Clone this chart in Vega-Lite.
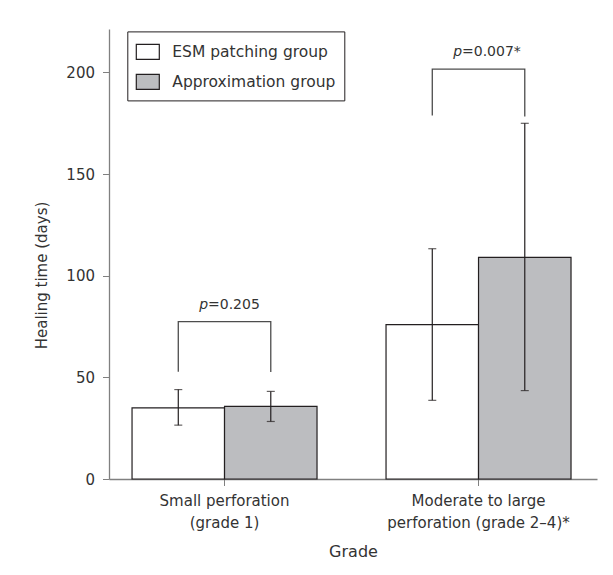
{
  "$schema": "https://vega.github.io/schema/vega-lite/v6.json",
  "width": 488,
  "height": 450,
  "autosize": {"type": "none"},
  "padding": {"left": 109, "top": 29, "right": 16, "bottom": 96},
  "background": "white",
  "config": {"view": {"stroke": null}, "font": "DejaVu Sans"},
  "datasets": {
    "bars": [
      {"grade": "Small perforation|(grade 1)", "group": "ESM patching group", "mean": 35, "lo": 26.5, "hi": 44},
      {"grade": "Small perforation|(grade 1)", "group": "Approximation group", "mean": 35.7, "lo": 28.3, "hi": 43.1},
      {"grade": "Moderate to large|perforation (grade 2–4)*", "group": "ESM patching group", "mean": 76, "lo": 38.7, "hi": 113.3},
      {"grade": "Moderate to large|perforation (grade 2–4)*", "group": "Approximation group", "mean": 109, "lo": 43.5, "hi": 175}
    ],
    "brackets": [
      {"grade": "Small perforation|(grade 1)", "group": "ESM patching group", "v": 52.8, "ord": 1},
      {"grade": "Small perforation|(grade 1)", "group": "ESM patching group", "v": 77.4, "ord": 2},
      {"grade": "Small perforation|(grade 1)", "group": "Approximation group", "v": 77.4, "ord": 3},
      {"grade": "Small perforation|(grade 1)", "group": "Approximation group", "v": 52.6, "ord": 4},
      {"grade": "Moderate to large|perforation (grade 2–4)*", "group": "ESM patching group", "v": 178.9, "ord": 1},
      {"grade": "Moderate to large|perforation (grade 2–4)*", "group": "ESM patching group", "v": 201.7, "ord": 2},
      {"grade": "Moderate to large|perforation (grade 2–4)*", "group": "Approximation group", "v": 201.7, "ord": 3},
      {"grade": "Moderate to large|perforation (grade 2–4)*", "group": "Approximation group", "v": 178.4, "ord": 4}
    ],
    "pvals": [
      {"grade": "Small perforation|(grade 1)", "v": 77.4, "p": "p", "rest": "=0.205"},
      {"grade": "Moderate to large|perforation (grade 2–4)*", "v": 201.7, "p": "p", "rest": "=0.007*"}
    ]
  },
  "encoding": {
    "x": {
      "field": "grade",
      "type": "nominal",
      "sort": null,
      "scale": {"paddingInner": 0.2717, "paddingOuter": 0.0965, "align": 0.47},
      "title": "Grade",
      "axis": {
        "labelExpr": "split(datum.label, '|')",
        "labelAngle": 0,
        "labelLimit": 0,
        "labelFontSize": 15,
        "labelLineHeight": 21.7,
        "labelPadding": 8,
        "labelColor": "#333333",
        "tickSize": 6.5,
        "tickColor": "#808080",
        "domainColor": "#808080",
        "domainWidth": 1.3,
        "titleFontSize": 16,
        "titleFontWeight": "normal",
        "titleColor": "#333333",
        "titleY": 72.4,
        "titleBaseline": "middle"
      }
    }
  },
  "layer": [
    {
      "data": {"name": "bars"},
      "mark": {"type": "bar", "stroke": "#231f20", "strokeWidth": 1.2},
      "encoding": {
        "xOffset": {"field": "group", "type": "nominal", "sort": ["ESM patching group", "Approximation group"], "scale": {"paddingInner": 0, "paddingOuter": 0}},
        "y": {
          "field": "mean",
          "type": "quantitative",
          "scale": {"domain": [0, 221.4], "nice": false},
          "title": "Healing time (days)",
          "axis": {
            "values": [0, 50, 100, 150, 200],
            "grid": false,
            "labelFontSize": 15,
            "labelPadding": 8,
            "labelColor": "#333333",
            "tickSize": 6.5,
            "tickColor": "#808080",
            "domainColor": "#808080",
            "domainWidth": 1.3,
            "titleFontSize": 15,
            "titleFontWeight": "normal",
            "titleColor": "#333333",
            "titleAngle": -90,
            "titleX": -68,
            "titleY": 246,
            "titleBaseline": "middle"
          }
        },
        "fill": {
          "field": "group",
          "type": "nominal",
          "scale": {"domain": ["ESM patching group", "Approximation group"], "range": ["#ffffff", "#bcbdc0"]},
          "legend": {
            "orient": "none",
            "legendX": 18.3,
            "legendY": 2.4,
            "title": null,
            "strokeColor": "#231f20",
            "fillColor": "white",
            "padding": 8,
            "symbolType": "M-1,-0.65L1,-0.65L1,0.65L-1,0.65Z",
            "symbolSize": 529,
            "symbolStrokeColor": "#231f20",
            "symbolStrokeWidth": 1.2,
            "labelFontSize": 15.5,
            "labelLimit": 0,
            "labelColor": "#333333",
            "labelOffset": 12,
            "rowPadding": 7
          }
        }
      }
    },
    {
      "data": {"name": "bars"},
      "mark": {"type": "rule", "color": "#231f20", "strokeWidth": 1.2},
      "encoding": {
        "xOffset": {"field": "group", "type": "nominal", "sort": ["ESM patching group", "Approximation group"]},
        "y": {"field": "lo", "type": "quantitative"},
        "y2": {"field": "hi"}
      }
    },
    {
      "data": {"name": "bars"},
      "mark": {"type": "tick", "size": 8, "thickness": 1.2, "color": "#231f20"},
      "encoding": {
        "xOffset": {"field": "group", "type": "nominal", "sort": ["ESM patching group", "Approximation group"]},
        "y": {"field": "lo", "type": "quantitative"}
      }
    },
    {
      "data": {"name": "bars"},
      "mark": {"type": "tick", "size": 8, "thickness": 1.2, "color": "#231f20"},
      "encoding": {
        "xOffset": {"field": "group", "type": "nominal", "sort": ["ESM patching group", "Approximation group"]},
        "y": {"field": "hi", "type": "quantitative"}
      }
    },
    {
      "data": {"name": "brackets"},
      "mark": {"type": "line", "color": "#4d4d4d", "strokeWidth": 1.3},
      "encoding": {
        "xOffset": {"field": "group", "type": "nominal", "sort": ["ESM patching group", "Approximation group"]},
        "y": {"field": "v", "type": "quantitative"},
        "detail": {"field": "grade"},
        "order": {"field": "ord", "type": "quantitative"}
      }
    },
    {
      "data": {"name": "pvals"},
      "mark": {"type": "text", "align": "right", "baseline": "middle", "dx": -16.5, "dy": -17, "fontSize": 14, "fontStyle": "italic", "color": "#333333"},
      "encoding": {
        "y": {"field": "v", "type": "quantitative"},
        "text": {"field": "p"}
      }
    },
    {
      "data": {"name": "pvals"},
      "mark": {"type": "text", "align": "left", "baseline": "middle", "dx": -16.5, "dy": -17, "fontSize": 14, "color": "#333333"},
      "encoding": {
        "y": {"field": "v", "type": "quantitative"},
        "text": {"field": "rest"}
      }
    }
  ]
}
